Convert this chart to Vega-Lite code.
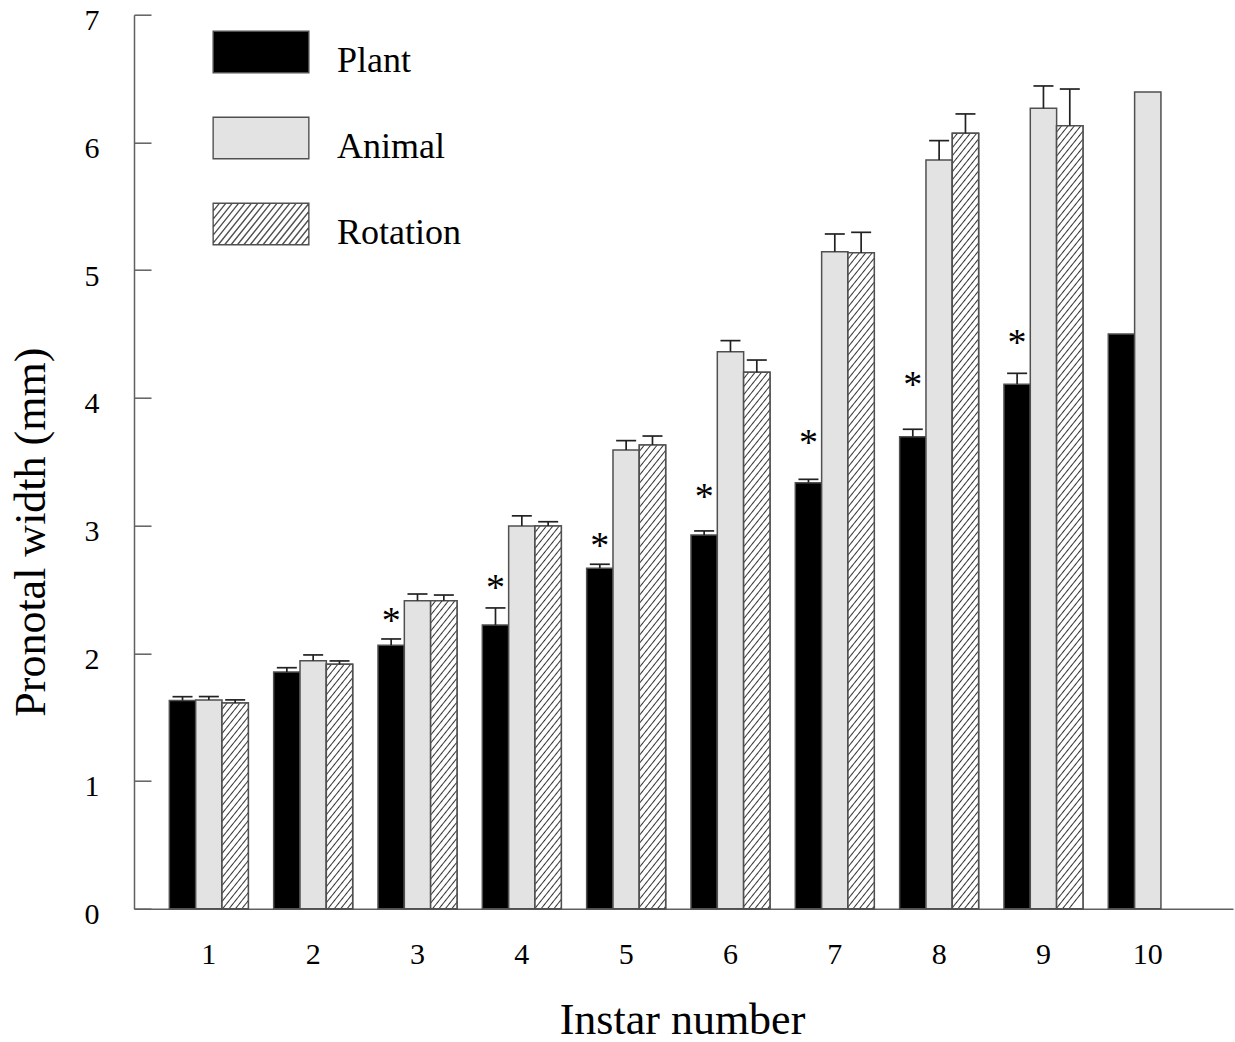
{
  "$schema": "https://vega.github.io/schema/vega-lite/v6.json",
  "width": 1099,
  "height": 894,
  "autosize": {"type": "none"},
  "padding": {"left": 134, "top": 14.7, "right": 2, "bottom": 133.3},
  "background": "white",
  "config": {"view": {"stroke": null}, "font": "Liberation Serif"},
  "params": [
    {"name": "hs", "expr": "[{offset:0,color:'#fff'},{offset:0.006,color:'#fff'},{offset:0.008,color:'#333'},{offset:0.01,color:'#fff'},{offset:0.016,color:'#fff'},{offset:0.018,color:'#333'},{offset:0.02,color:'#fff'},{offset:0.026,color:'#fff'},{offset:0.028,color:'#333'},{offset:0.03,color:'#fff'},{offset:0.036,color:'#fff'},{offset:0.038,color:'#333'},{offset:0.04,color:'#fff'},{offset:0.046,color:'#fff'},{offset:0.048,color:'#333'},{offset:0.05,color:'#fff'},{offset:0.056,color:'#fff'},{offset:0.058,color:'#333'},{offset:0.06,color:'#fff'},{offset:0.066,color:'#fff'},{offset:0.068,color:'#333'},{offset:0.07,color:'#fff'},{offset:0.076,color:'#fff'},{offset:0.078,color:'#333'},{offset:0.08,color:'#fff'},{offset:0.086,color:'#fff'},{offset:0.088,color:'#333'},{offset:0.09,color:'#fff'},{offset:0.096,color:'#fff'},{offset:0.098,color:'#333'},{offset:0.1,color:'#fff'},{offset:0.106,color:'#fff'},{offset:0.108,color:'#333'},{offset:0.11,color:'#fff'},{offset:0.116,color:'#fff'},{offset:0.118,color:'#333'},{offset:0.12,color:'#fff'},{offset:0.126,color:'#fff'},{offset:0.128,color:'#333'},{offset:0.13,color:'#fff'},{offset:0.136,color:'#fff'},{offset:0.138,color:'#333'},{offset:0.14,color:'#fff'},{offset:0.146,color:'#fff'},{offset:0.148,color:'#333'},{offset:0.15,color:'#fff'},{offset:0.156,color:'#fff'},{offset:0.158,color:'#333'},{offset:0.16,color:'#fff'},{offset:0.166,color:'#fff'},{offset:0.168,color:'#333'},{offset:0.17,color:'#fff'},{offset:0.176,color:'#fff'},{offset:0.178,color:'#333'},{offset:0.18,color:'#fff'},{offset:0.186,color:'#fff'},{offset:0.188,color:'#333'},{offset:0.19,color:'#fff'},{offset:0.196,color:'#fff'},{offset:0.198,color:'#333'},{offset:0.2,color:'#fff'},{offset:0.206,color:'#fff'},{offset:0.208,color:'#333'},{offset:0.21,color:'#fff'},{offset:0.216,color:'#fff'},{offset:0.218,color:'#333'},{offset:0.22,color:'#fff'},{offset:0.226,color:'#fff'},{offset:0.228,color:'#333'},{offset:0.23,color:'#fff'},{offset:0.236,color:'#fff'},{offset:0.238,color:'#333'},{offset:0.24,color:'#fff'},{offset:0.246,color:'#fff'},{offset:0.248,color:'#333'},{offset:0.25,color:'#fff'},{offset:0.256,color:'#fff'},{offset:0.258,color:'#333'},{offset:0.26,color:'#fff'},{offset:0.266,color:'#fff'},{offset:0.268,color:'#333'},{offset:0.27,color:'#fff'},{offset:0.276,color:'#fff'},{offset:0.278,color:'#333'},{offset:0.28,color:'#fff'},{offset:0.286,color:'#fff'},{offset:0.288,color:'#333'},{offset:0.29,color:'#fff'},{offset:0.296,color:'#fff'},{offset:0.298,color:'#333'},{offset:0.3,color:'#fff'},{offset:0.306,color:'#fff'},{offset:0.308,color:'#333'},{offset:0.31,color:'#fff'},{offset:0.316,color:'#fff'},{offset:0.318,color:'#333'},{offset:0.32,color:'#fff'},{offset:0.326,color:'#fff'},{offset:0.328,color:'#333'},{offset:0.33,color:'#fff'},{offset:0.336,color:'#fff'},{offset:0.338,color:'#333'},{offset:0.34,color:'#fff'},{offset:0.346,color:'#fff'},{offset:0.348,color:'#333'},{offset:0.35,color:'#fff'},{offset:0.356,color:'#fff'},{offset:0.358,color:'#333'},{offset:0.36,color:'#fff'},{offset:0.366,color:'#fff'},{offset:0.368,color:'#333'},{offset:0.37,color:'#fff'},{offset:0.376,color:'#fff'},{offset:0.378,color:'#333'},{offset:0.38,color:'#fff'},{offset:0.386,color:'#fff'},{offset:0.388,color:'#333'},{offset:0.39,color:'#fff'},{offset:0.396,color:'#fff'},{offset:0.398,color:'#333'},{offset:0.4,color:'#fff'},{offset:0.406,color:'#fff'},{offset:0.408,color:'#333'},{offset:0.41,color:'#fff'},{offset:0.416,color:'#fff'},{offset:0.418,color:'#333'},{offset:0.42,color:'#fff'},{offset:0.426,color:'#fff'},{offset:0.428,color:'#333'},{offset:0.43,color:'#fff'},{offset:0.436,color:'#fff'},{offset:0.438,color:'#333'},{offset:0.44,color:'#fff'},{offset:0.446,color:'#fff'},{offset:0.448,color:'#333'},{offset:0.45,color:'#fff'},{offset:0.456,color:'#fff'},{offset:0.458,color:'#333'},{offset:0.46,color:'#fff'},{offset:0.466,color:'#fff'},{offset:0.468,color:'#333'},{offset:0.47,color:'#fff'},{offset:0.476,color:'#fff'},{offset:0.478,color:'#333'},{offset:0.48,color:'#fff'},{offset:0.486,color:'#fff'},{offset:0.488,color:'#333'},{offset:0.49,color:'#fff'},{offset:0.496,color:'#fff'},{offset:0.498,color:'#333'},{offset:0.5,color:'#fff'},{offset:0.506,color:'#fff'},{offset:0.508,color:'#333'},{offset:0.51,color:'#fff'},{offset:0.516,color:'#fff'},{offset:0.518,color:'#333'},{offset:0.52,color:'#fff'},{offset:0.526,color:'#fff'},{offset:0.528,color:'#333'},{offset:0.53,color:'#fff'},{offset:0.536,color:'#fff'},{offset:0.538,color:'#333'},{offset:0.54,color:'#fff'},{offset:0.546,color:'#fff'},{offset:0.548,color:'#333'},{offset:0.55,color:'#fff'},{offset:0.556,color:'#fff'},{offset:0.558,color:'#333'},{offset:0.56,color:'#fff'},{offset:0.566,color:'#fff'},{offset:0.568,color:'#333'},{offset:0.57,color:'#fff'},{offset:0.576,color:'#fff'},{offset:0.578,color:'#333'},{offset:0.58,color:'#fff'},{offset:0.586,color:'#fff'},{offset:0.588,color:'#333'},{offset:0.59,color:'#fff'},{offset:0.596,color:'#fff'},{offset:0.598,color:'#333'},{offset:0.6,color:'#fff'},{offset:0.606,color:'#fff'},{offset:0.608,color:'#333'},{offset:0.61,color:'#fff'},{offset:0.616,color:'#fff'},{offset:0.618,color:'#333'},{offset:0.62,color:'#fff'},{offset:0.626,color:'#fff'},{offset:0.628,color:'#333'},{offset:0.63,color:'#fff'},{offset:0.636,color:'#fff'},{offset:0.638,color:'#333'},{offset:0.64,color:'#fff'},{offset:0.646,color:'#fff'},{offset:0.648,color:'#333'},{offset:0.65,color:'#fff'},{offset:0.656,color:'#fff'},{offset:0.658,color:'#333'},{offset:0.66,color:'#fff'},{offset:0.666,color:'#fff'},{offset:0.668,color:'#333'},{offset:0.67,color:'#fff'},{offset:0.676,color:'#fff'},{offset:0.678,color:'#333'},{offset:0.68,color:'#fff'},{offset:0.686,color:'#fff'},{offset:0.688,color:'#333'},{offset:0.69,color:'#fff'},{offset:0.696,color:'#fff'},{offset:0.698,color:'#333'},{offset:0.7,color:'#fff'},{offset:0.706,color:'#fff'},{offset:0.708,color:'#333'},{offset:0.71,color:'#fff'},{offset:0.716,color:'#fff'},{offset:0.718,color:'#333'},{offset:0.72,color:'#fff'},{offset:0.726,color:'#fff'},{offset:0.728,color:'#333'},{offset:0.73,color:'#fff'},{offset:0.736,color:'#fff'},{offset:0.738,color:'#333'},{offset:0.74,color:'#fff'},{offset:0.746,color:'#fff'},{offset:0.748,color:'#333'},{offset:0.75,color:'#fff'},{offset:0.756,color:'#fff'},{offset:0.758,color:'#333'},{offset:0.76,color:'#fff'},{offset:0.766,color:'#fff'},{offset:0.768,color:'#333'},{offset:0.77,color:'#fff'},{offset:0.776,color:'#fff'},{offset:0.778,color:'#333'},{offset:0.78,color:'#fff'},{offset:0.786,color:'#fff'},{offset:0.788,color:'#333'},{offset:0.79,color:'#fff'},{offset:0.796,color:'#fff'},{offset:0.798,color:'#333'},{offset:0.8,color:'#fff'},{offset:0.806,color:'#fff'},{offset:0.808,color:'#333'},{offset:0.81,color:'#fff'},{offset:0.816,color:'#fff'},{offset:0.818,color:'#333'},{offset:0.82,color:'#fff'},{offset:0.826,color:'#fff'},{offset:0.828,color:'#333'},{offset:0.83,color:'#fff'},{offset:0.836,color:'#fff'},{offset:0.838,color:'#333'},{offset:0.84,color:'#fff'},{offset:0.846,color:'#fff'},{offset:0.848,color:'#333'},{offset:0.85,color:'#fff'},{offset:0.856,color:'#fff'},{offset:0.858,color:'#333'},{offset:0.86,color:'#fff'},{offset:0.866,color:'#fff'},{offset:0.868,color:'#333'},{offset:0.87,color:'#fff'},{offset:0.876,color:'#fff'},{offset:0.878,color:'#333'},{offset:0.88,color:'#fff'},{offset:0.886,color:'#fff'},{offset:0.888,color:'#333'},{offset:0.89,color:'#fff'},{offset:0.896,color:'#fff'},{offset:0.898,color:'#333'},{offset:0.9,color:'#fff'},{offset:0.906,color:'#fff'},{offset:0.908,color:'#333'},{offset:0.91,color:'#fff'},{offset:0.916,color:'#fff'},{offset:0.918,color:'#333'},{offset:0.92,color:'#fff'},{offset:0.926,color:'#fff'},{offset:0.928,color:'#333'},{offset:0.93,color:'#fff'},{offset:0.936,color:'#fff'},{offset:0.938,color:'#333'},{offset:0.94,color:'#fff'},{offset:0.946,color:'#fff'},{offset:0.948,color:'#333'},{offset:0.95,color:'#fff'},{offset:0.956,color:'#fff'},{offset:0.958,color:'#333'},{offset:0.96,color:'#fff'},{offset:0.966,color:'#fff'},{offset:0.968,color:'#333'},{offset:0.97,color:'#fff'},{offset:0.976,color:'#fff'},{offset:0.978,color:'#333'},{offset:0.98,color:'#fff'},{offset:0.986,color:'#fff'},{offset:0.988,color:'#333'},{offset:0.99,color:'#fff'},{offset:0.996,color:'#fff'},{offset:0.998,color:'#333'},{offset:1,color:'#fff'}]"}
  ],
  "data": {
    "values": [
      {"instar": 1, "treatment": "Plant", "mean": 1.63, "hi": 1.66},
      {"instar": 1, "treatment": "Animal", "mean": 1.635, "hi": 1.661},
      {"instar": 1, "treatment": "Rotation", "mean": 1.61, "hi": 1.635},
      {"instar": 2, "treatment": "Plant", "mean": 1.853, "hi": 1.887},
      {"instar": 2, "treatment": "Animal", "mean": 1.942, "hi": 1.987},
      {"instar": 2, "treatment": "Rotation", "mean": 1.914, "hi": 1.94},
      {"instar": 3, "treatment": "Plant", "mean": 2.062, "hi": 2.112, "star": 2.288},
      {"instar": 3, "treatment": "Animal", "mean": 2.412, "hi": 2.464},
      {"instar": 3, "treatment": "Rotation", "mean": 2.412, "hi": 2.456},
      {"instar": 4, "treatment": "Plant", "mean": 2.221, "hi": 2.355, "star": 2.55},
      {"instar": 4, "treatment": "Animal", "mean": 2.997, "hi": 3.076},
      {"instar": 4, "treatment": "Rotation", "mean": 2.997, "hi": 3.03},
      {"instar": 5, "treatment": "Plant", "mean": 2.665, "hi": 2.697, "star": 2.881},
      {"instar": 5, "treatment": "Animal", "mean": 3.592, "hi": 3.665},
      {"instar": 5, "treatment": "Rotation", "mean": 3.631, "hi": 3.701},
      {"instar": 6, "treatment": "Plant", "mean": 2.926, "hi": 2.958, "star": 3.26},
      {"instar": 6, "treatment": "Animal", "mean": 4.361, "hi": 4.448},
      {"instar": 6, "treatment": "Rotation", "mean": 4.2, "hi": 4.296},
      {"instar": 7, "treatment": "Plant", "mean": 3.336, "hi": 3.362, "star": 3.686},
      {"instar": 7, "treatment": "Animal", "mean": 5.144, "hi": 5.283},
      {"instar": 7, "treatment": "Rotation", "mean": 5.137, "hi": 5.296},
      {"instar": 8, "treatment": "Plant", "mean": 3.696, "hi": 3.754, "star": 4.14},
      {"instar": 8, "treatment": "Animal", "mean": 5.862, "hi": 6.014},
      {"instar": 8, "treatment": "Rotation", "mean": 6.071, "hi": 6.223},
      {"instar": 9, "treatment": "Plant", "mean": 4.106, "hi": 4.192, "star": 4.47},
      {"instar": 9, "treatment": "Animal", "mean": 6.267, "hi": 6.442},
      {"instar": 9, "treatment": "Rotation", "mean": 6.131, "hi": 6.418},
      {"instar": 10, "treatment": "Plant", "mean": 4.5},
      {"instar": 10, "treatment": "Animal", "mean": 6.395}
    ]
  },
  "encoding": {
    "x": {
      "field": "instar",
      "type": "ordinal",
      "scale": {"paddingInner": 0.2428, "paddingOuter": 0.3885, "align": 0.436},
      "axis": {
        "labelAngle": 0,
        "ticks": false,
        "grid": false,
        "domainColor": "#606060",
        "domainWidth": 1.5,
        "labelFont": "Liberation Serif",
        "labelFontSize": 30,
        "labelColor": "#000000",
        "labelPadding": 54.6,
        "labelBaseline": "alphabetic",
        "title": "Instar number",
        "titleFont": "Liberation Serif",
        "titleFontSize": 44,
        "titleFontWeight": "normal",
        "titleColor": "#000000",
        "titleX": 548,
        "titleY": 124.3,
        "titleBaseline": "alphabetic",
        "titleAlign": "center"
      }
    },
    "xOffset": {
      "field": "treatment",
      "type": "nominal",
      "scale": {"domain": ["Plant", "Animal", "Rotation"], "paddingInner": 0, "paddingOuter": 0}
    }
  },
  "layer": [
    {
      "mark": {"type": "bar", "stroke": "#505050", "strokeWidth": 1.5},
      "encoding": {
        "y": {
          "field": "mean",
          "type": "quantitative",
          "scale": {"domain": [0, 7], "nice": false, "zero": true},
          "axis": {
            "values": [0, 1, 2, 3, 4, 5, 6, 7],
            "format": "d",
            "grid": false,
            "domainColor": "#606060",
            "domainWidth": 1.5,
            "tickColor": "#606060",
            "tickWidth": 1.5,
            "tickSize": -17,
            "labelFont": "Liberation Serif",
            "labelFontSize": 30,
            "labelColor": "#000000",
            "labelPadding": 52,
            "labelBaseline": "alphabetic",
            "labelOffset": 15,
            "labelFlush": false,
            "title": "Pronotal width (mm)",
            "titleFont": "Liberation Serif",
            "titleFontSize": 44,
            "titleFontWeight": "normal",
            "titleColor": "#000000",
            "titleX": -90,
            "titleY": 517,
            "titleAngle": -90,
            "titleBaseline": "alphabetic",
            "titleAlign": "center"
          }
        },
        "fill": {
          "field": "treatment",
          "type": "nominal",
          "scale": {"domain": ["Plant", "Animal", "Rotation"], "range": ["#000000", "#e3e3e3", "#ffffff"]},
          "legend": {
            "orient": "none",
            "legendX": 78,
            "legendY": -3,
            "title": null,
            "padding": 0,
            "symbolType": "M-1,-0.617H1V0.253H-1Z",
            "symbolSize": 9158,
            "symbolStrokeColor": "#505050",
            "symbolStrokeWidth": 1.5,
            "symbolOpacity": 1,
            "labelFont": "Liberation Serif",
            "labelFontSize": 36,
            "labelColor": "#000000",
            "labelBaseline": "middle",
            "labelOffset": 27,
            "labelLimit": 0,
            "rowPadding": 19,
            "encoding": {
              "symbols": {
                "stroke": {"value": "#505050"},
                "strokeWidth": {"value": 1.4},
                "shape": {
                  "condition": {"test": "datum.value === 'Rotation'", "value": "M-1,-0.617H1V0.253H-1Z M-1,-0.4498L-0.8662,-0.617 M-1,-0.2826L-0.7325,-0.617 M-1,-0.1154L-0.5987,-0.617 M-1,0.0518L-0.465,-0.617 M-1,0.219L-0.3312,-0.617 M-0.8934,0.253L-0.1974,-0.617 M-0.7597,0.253L-0.0637,-0.617 M-0.6259,0.253L0.0701,-0.617 M-0.4922,0.253L0.2038,-0.617 M-0.3584,0.253L0.3376,-0.617 M-0.2246,0.253L0.4714,-0.617 M-0.0909,0.253L0.6051,-0.617 M0.0429,0.253L0.7389,-0.617 M0.1766,0.253L0.8726,-0.617 M0.3104,0.253L1,-0.609 M0.4442,0.253L1,-0.4418 M0.5779,0.253L1,-0.2746 M0.7117,0.253L1,-0.1074 M0.8454,0.253L1,0.0598 M0.9792,0.253L1,0.227"},
                  "value": "M-1,-0.617H1V0.253H-1Z"
                }
              }
            }
          }
        }
      }
    },
    {
      "transform": [{"filter": "datum.treatment === 'Rotation'"}],
      "mark": {"type": "bar", "stroke": "#505050", "strokeWidth": 1.5},
      "encoding": {
        "y": {"field": "mean", "type": "quantitative"},
        "fill": {"value": {"expr": "{gradient:'linear',x1:0,y1:0,x2:1.25*bandwidth('xOffset')*800/(pow(1.25*bandwidth('xOffset'),2)+pow(scale('y',0)-scale('y',datum.mean),2)),y2:(scale('y',0)-scale('y',datum.mean))*800/(pow(1.25*bandwidth('xOffset'),2)+pow(scale('y',0)-scale('y',datum.mean),2)),stops:hs}"}}
      }
    },
    {
      "transform": [{"filter": "isValid(datum.hi)"}],
      "mark": {"type": "rule", "color": "#222222", "strokeWidth": 1.7},
      "encoding": {
        "y": {"field": "mean", "type": "quantitative"},
        "y2": {"field": "hi"}
      }
    },
    {
      "transform": [{"filter": "isValid(datum.hi)"}],
      "mark": {"type": "tick", "color": "#222222", "size": 20, "thickness": 1.7, "orient": "horizontal", "opacity": 1},
      "encoding": {
        "y": {"field": "hi", "type": "quantitative"}
      }
    },
    {
      "transform": [{"filter": "isValid(datum.star)"}],
      "mark": {"type": "text", "text": "*", "font": "Liberation Serif", "fontSize": 38, "color": "#000000", "baseline": "middle", "align": "center", "dy": 6},
      "encoding": {
        "y": {"field": "star", "type": "quantitative"}
      }
    }
  ]
}
